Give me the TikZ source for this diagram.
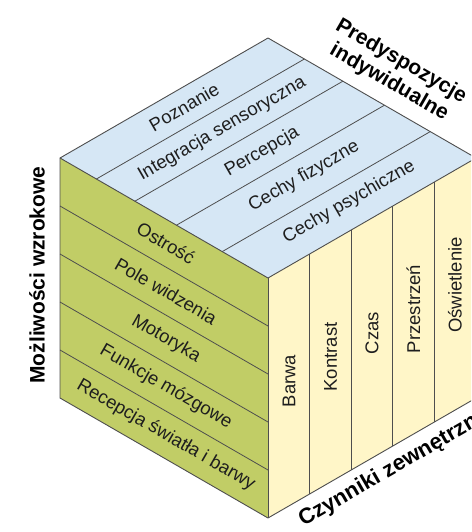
\documentclass[tikz,border=0pt]{standalone}
\usepackage{fontspec}
\setmainfont{Liberation Sans}
\usetikzlibrary{calc}
\definecolor{topblue}{RGB}{214,231,245}
\definecolor{leftgreen}{RGB}{193,205,102}
\definecolor{rightyellow}{RGB}{255,246,200}
\definecolor{edgegray}{RGB}{78,78,78}
\definecolor{txt}{RGB}{30,30,30}
\begin{document}
\begin{tikzpicture}[x=1pt,y=-1pt,
  face/.style={draw=edgegray, line width=0.9pt, line join=round},
  div/.style={draw=edgegray, line width=0.8pt},
  lbl/.style={font=\fontsize{18.5}{21}\selectfont, inner sep=0pt, text=txt},
  ttl/.style={font=\fontsize{21}{24}\selectfont\bfseries, inner sep=0pt, text=black}]
\useasboundingbox (0,0) rectangle (471,532);
\clip (0,0) rectangle (471,532);
% cube vertices
\coordinate (L) at (60,158);
\coordinate (F) at (268,278);
\coordinate (T) at (268,38);
\coordinate (R) at (476,158);
\coordinate (LB) at (60,398);
\coordinate (FB) at (268,518);
\coordinate (RB) at (476,398);
% faces
\fill[topblue] (L) -- (T) -- (R) -- (F) -- cycle;
\fill[leftgreen] (L) -- (F) -- (FB) -- (LB) -- cycle;
\fill[rightyellow] (F) -- (R) -- (RB) -- (FB) -- cycle;
% stripes on top face
\foreach \f in {0.175,0.36,0.56,0.78}
  \draw[div] ($(L)!\f!(F)$) -- ($(T)!\f!(R)$);
% stripes on left face
\foreach \f in {0.2,0.4,0.6,0.8}
  \draw[div] ($(L)!\f!(LB)$) -- ($(F)!\f!(FB)$);
% stripes on right face
\foreach \f in {0.2,0.4,0.6,0.8}
  \draw[div] ($(F)!\f!(R)$) -- ($(FB)!\f!(RB)$);
% outlines
\draw[face] (L) -- (T) -- (R) -- (RB) -- (FB) -- (LB) -- cycle;
\draw[face] (L) -- (F) -- (R);
\draw[face] (F) -- (FB);
% top face labels
\node[lbl, rotate=30] (t1) at (184,107) {Poznanie};
\node[lbl, rotate=30] (t2) at (222,129) {Integracja sensoryczna};
\node[lbl, rotate=30] (t3) at (262,152) {Percepcja};
\node[lbl, rotate=30] (t4) at (304,176.5) {Cechy fizyczne};
\node[lbl, rotate=30] (t5) at (349,202) {Cechy psychiczne};
% left face labels
\node[lbl, rotate=-30] (l1) at (166,243) {Ostrość};
\node[lbl, rotate=-30] (l2) at (166,291) {Pole widzenia};
\node[lbl, rotate=-30] (l3) at (166,339) {Motoryka};
\node[lbl, rotate=-30] (l4) at (166,387) {Funkcje mózgowe};
\node[lbl, rotate=-30] (l5) at (166,435) {Recepcja światła i barwy};
% right face labels
\node[lbl, rotate=90] (r1) at (289,381) {Barwa};
\node[lbl, rotate=90] (r2) at (330.5,357) {Kontrast};
\node[lbl, rotate=90] (r3) at (372,333) {Czas};
\node[lbl, rotate=90] (r4) at (413.5,309) {Przestrzeń};
\node[lbl, rotate=90] (r5) at (455,285) {Oświetlenie};
% axis titles
\node[ttl, rotate=90] (ml) at (37,275) {Możliwości wzrokowe};
\node[ttl, rotate=-30, align=center] (pi) at (395,72) {Predyspozycje\\indywidualne};
\node[ttl, rotate=30, font=\fontsize{22}{25}\selectfont\bfseries] (cz) at (394,468) {Czynniki zewnętrzne};
\end{tikzpicture}
\end{document}
